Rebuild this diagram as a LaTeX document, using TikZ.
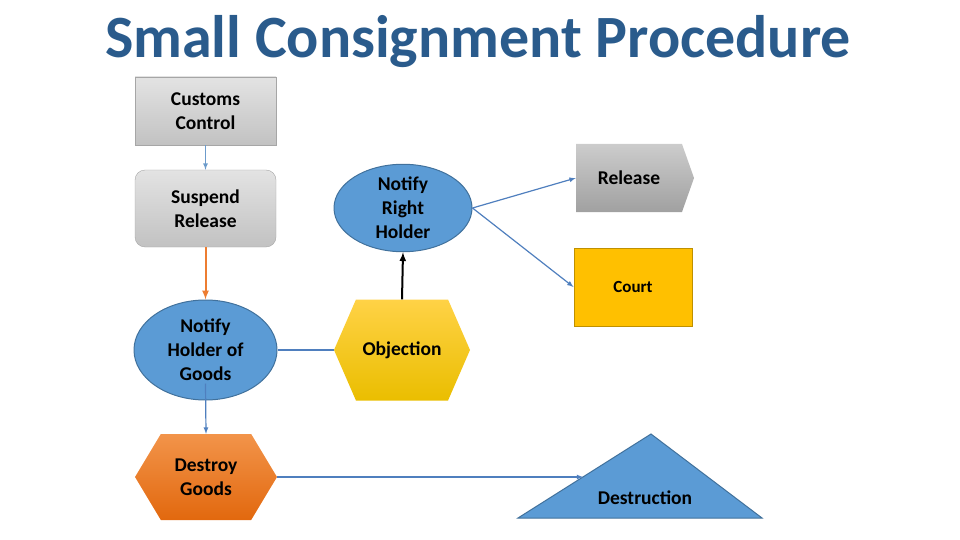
\documentclass[tikz,border=0pt]{standalone}
\usepackage{fontspec}
\setmainfont{Carlito}
\usetikzlibrary{calc, arrows, shapes.geometric, shapes.symbols}
\definecolor{ttlblue}{HTML}{2A5B8C}
\definecolor{lnblue}{HTML}{4F7FBE}
\definecolor{ltblue}{HTML}{6C9BCB}
\definecolor{fillblue}{HTML}{5B9BD5}
\definecolor{edgeblue}{HTML}{41719C}
\definecolor{lnorange}{HTML}{ED7D31}
\definecolor{orgtop}{HTML}{F2944A}
\definecolor{orgbot}{HTML}{E2680E}
\tikzset{
  fcnode/.style = {align=center, inner sep=0pt, text centered,
    font=\fontsize{19.5}{24}\selectfont\bfseries},
  fc_grey/.style = {fcnode, rectangle, draw=black!35, top color=black!11,
    bottom color=black!24, minimum width=141pt, minimum height=68pt},% boite grise
  fc_oval/.style = {fcnode, ellipse, fill=fillblue, draw=edgeblue,
    line width=1pt},% ellipse bleue
  fc_hex/.style = {fcnode, signal, signal to=east and west,
    draw=none},% hexagone
  fc_link/.style = {->, >=latex, line width=1.2pt, lnblue}% fleche bleue
}
\begin{document}
\begin{tikzpicture}[x=1pt, y=-1pt]
\useasboundingbox (0,0) rectangle (960,540);

\node[font=\fontsize{60}{60}\selectfont\bfseries, text=ttlblue] (title) at (478,42) {Small Consignment Procedure};

\node[fc_grey] (cc) at (205.5,111) {Customs\\Control};
\node[fc_grey, rounded corners=10pt, minimum height=77pt] (sr) at (205.5,208.5) {Suspend\\Release};
\node[fc_oval, minimum width=143pt, minimum height=100pt] (nh) at (205.5,350) {Notify\\Holder of\\Goods};
\node[fc_hex, signal pointer angle=118, minimum width=142pt, minimum height=86pt,
  top color=orgtop, bottom color=orgbot] (dg) at (206,477) {Destroy\\Goods};
\node[fc_hex, signal pointer angle=133, minimum width=136pt, minimum height=101pt,
  top color={rgb,255:red,255;green,210;blue,70}, bottom color={rgb,255:red,234;green,190;blue,0}] (ob) at (402,350) {Objection};
\node[fc_oval, minimum width=138pt, minimum height=77pt] (nr) at (403,208) {Notify\\Right\\Holder};
\node[fcnode, signal, signal to=east, signal pointer angle=141, minimum width=118pt, minimum height=68pt,
  top color=black!20, bottom color=black!37] (rl) at (629,178) {Release};
\node[fcnode, rectangle, fill={rgb,255:red,255;green,192;blue,0}, draw={rgb,255:red,191;green,144;blue,0},
  line width=1pt, minimum width=118pt, minimum height=78pt, font=\fontsize{17}{20}\selectfont\bfseries] (ct) at (633,287) {Court};

% triangle
\coordinate (ds_l) at (518,518);
\coordinate (ds_t) at (651,434);
\coordinate (ds_r) at (762,518);
\filldraw[fill=fillblue, draw=edgeblue, line width=1pt] (ds_l) -- (ds_t) -- (ds_r) -- cycle;
\node[fcnode] (ds) at (645,498) {Destruction};
\coordinate (ds_e) at ($(ds_l)!0.49!(ds_t)$);

\draw[fc_link, ltblue] (cc.south) -- (sr.north);
\draw[fc_link, lnorange, line width=2pt] (sr.south) -- (nh.north);
\draw[line width=1.2pt, lnblue] (nh.east) -- (ob.west);
\draw[fc_link] ($(nh.south)+(0,-17)$) -- (dg.north);
\draw[fc_link] (dg.east) -- (dg.east -| ds_e);
\draw[->, >=latex, line width=2pt, black] (ob.north) -- (nr.south);
\draw[fc_link] (nr.east) -- (rl.west);
\draw[fc_link] (nr.east) -- (ct.west);
\end{tikzpicture}
\end{document}
